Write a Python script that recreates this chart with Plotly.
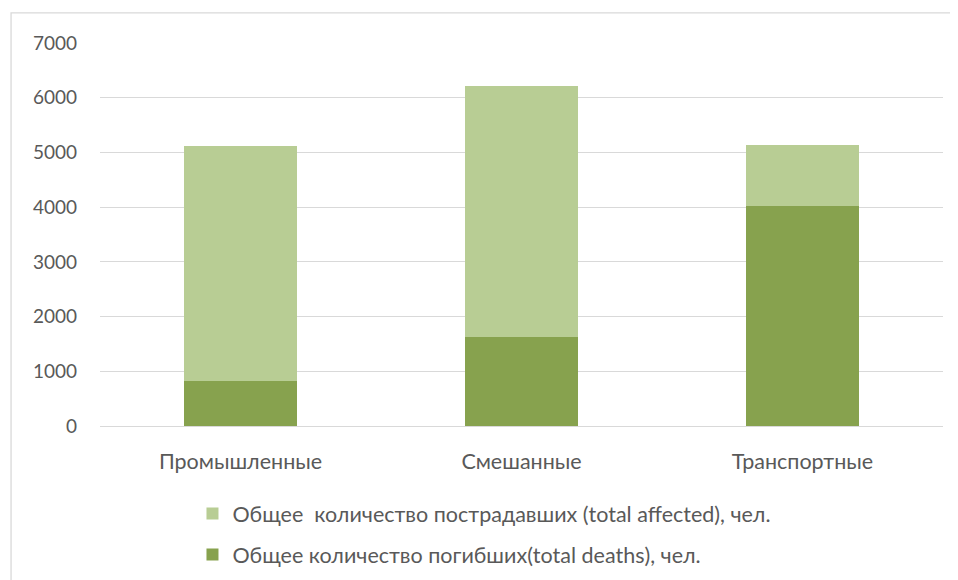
import plotly.graph_objects as go

categories = ["Промышленные", "Смешанные", "Транспортные"]
deaths = [817, 1622, 4015]
affected = [4293, 4588, 1117]
series_names = [
    "Общее количество погибших(total deaths), чел.",
    "Общее  количество пострадавших (total affected), чел.",
]
y_ticks = [0, 1000, 2000, 3000, 4000, 5000, 6000, 7000]

dark = "#87A24E"
light = "#B8CD94"
txt = "#595959"
font_family = "Lato, 'Open Sans', sans-serif"

fig = go.Figure()
fig.add_trace(go.Bar(x=categories, y=deaths, name=series_names[0], marker_color=dark,
                     marker_line_width=0, legendgroup="d", legendrank=2))
fig.add_trace(go.Bar(x=categories, y=affected, name=series_names[1], marker_color=light,
                     marker_line_width=0, legendgroup="a", legendrank=1))

fig.update_layout(
    width=958, height=580,
    barmode="stack", bargap=0.6,
    paper_bgcolor="white", plot_bgcolor="white",
    margin=dict(l=92, r=23, t=35, b=162),
    font=dict(family=font_family, color=txt, size=18),
    showlegend=True,
    legend=dict(orientation="v", traceorder="grouped", x=0.1097, xanchor="left",
                y=-0.175, yanchor="top", font=dict(size=21.5, color=txt),
                itemwidth=30, tracegroupgap=10, bgcolor="rgba(0,0,0,0)"),
    xaxis=dict(showgrid=False, showline=False, ticks="", ticklabelstandoff=20,
               tickfont=dict(size=21.5, color=txt)),
    yaxis=dict(range=[0, 7000], tickvals=y_ticks, showgrid=True, gridcolor="#D9D9D9",
               gridwidth=1.3, zeroline=True, zerolinecolor="#D9D9D9", zerolinewidth=1.3,
               showline=False, ticks="", ticklabelstandoff=22,
               tickfont=dict(size=19, color=txt)),
    shapes=[dict(type="rect", xref="paper", yref="paper", x0=-0.1055, x1=1.2,
                 y0=-0.6, y1=1.0785, line=dict(color="#D9D9D9", width=1.3),
                 fillcolor="rgba(0,0,0,0)", layer="below")],
)

fig.write_html("out.html")
